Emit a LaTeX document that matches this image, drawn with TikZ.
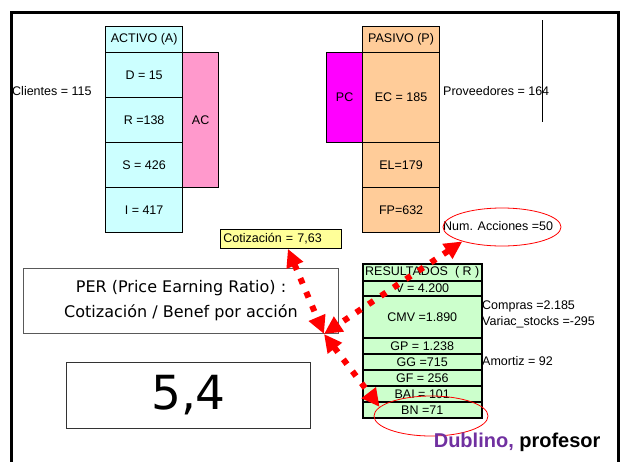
\documentclass[tikz,border=0pt]{standalone}
\usepackage{fontspec}
\setmainfont{Liberation Sans}
\newfontfamily\comicfont{DejaVu Sans}
\usetikzlibrary{arrows.meta,shapes.geometric}
\definecolor{ActCyan}{HTML}{CCFFFF}
\definecolor{PasPeach}{HTML}{FFCC99}
\definecolor{ResGreen}{HTML}{CCFFCC}
\definecolor{AcPink}{HTML}{FF99CC}
\definecolor{PcMagenta}{HTML}{FF00FF}
\definecolor{CotYellow}{HTML}{FFFF99}
\definecolor{DubPurple}{HTML}{7030A0}

\begin{document}
\begin{tikzpicture}[
  x=1pt, y=-1pt, font=\fontsize{12.5}{14}\selectfont,
  cell/.style={draw,line width=1.2pt,minimum width=77,inner sep=0pt,
               anchor=north west},
  rescell/.style={draw,line width=1.5pt,fill=ResGreen,minimum width=119,
                  inner sep=0pt,anchor=north west},
  txt/.style={anchor=west,inner sep=0pt},
  ring/.style={ellipse,draw=red,line width=.8pt,inner sep=0pt},
  flecha/.style={draw=red,line width=6pt,dash pattern=on 6pt off 9pt,
    {Triangle[length=18pt,width=17pt]}-{Triangle[length=18pt,width=17pt]}}]

\useasboundingbox (0,0) rectangle (620,461);
\draw[line width=3pt] (11,475) -- (11,12) -- (618,12) -- (618,475);

% activo
\node[cell,fill=ActCyan,minimum height=26] (act) at (105,26) {ACTIVO (A)};
\node[cell,fill=ActCyan,minimum height=45] (d) at (105,52) {D = 15};
\node[cell,fill=ActCyan,minimum height=45] (r) at (105,97) {R =138};
\node[cell,fill=ActCyan,minimum height=45] (s) at (105,142) {S = 426};
\node[cell,fill=ActCyan,minimum height=45] (i) at (105,187) {I = 417};
\node[cell,fill=AcPink,minimum width=36,minimum height=135] (ac) at (182,52) {AC};
\node[txt] (cli) at (12,91) {Clientes = 115};

% pasivo
\node[cell,fill=PasPeach,minimum height=26] (pas) at (362,26) {PASIVO (P)};
\node[cell,fill=PasPeach,minimum height=90] (ec) at (362,52) {EC = 185};
\node[cell,fill=PasPeach,minimum height=45] (el) at (362,142) {EL=179};
\node[cell,fill=PasPeach,minimum height=45] (fp) at (362,187) {FP=632};
\node[cell,fill=PcMagenta,minimum width=36,minimum height=90] (pc) at (326,52) {PC};
\node[txt] (prov) at (443,91) {Proveedores = 164};
\draw[line width=1pt] (542,20) -- (542,122);

\node[txt] (acc) at (443,226) {Num. Acciones =50};
\node[ring,minimum width=118,minimum height=38] (accring) at (502,227) {};

\node[draw,line width=.8pt,fill=CotYellow,anchor=north west,minimum height=19,
      text width=115,inner xsep=3,inner ysep=0,align=left] (cot) at (220,229)
  {Cotización = 7,63};

\node[draw=black!65,line width=1pt,anchor=north west,minimum width=315,
      minimum height=65,align=center,font=\comicfont\fontsize{16}{25}\selectfont]
  (per) at (23,268) {PER (Price Earning Ratio) :\\Cotización / Benef por acción};
\node[draw=black!80,line width=1pt,anchor=north west,minimum width=244,
      minimum height=66,font=\comicfont\fontsize{47}{50}\selectfont]
  (per54) at (66,362) {5,4};

% resultados
\node[rescell,minimum height=17] (resh) at (362,263) {RESULTADOS\ \ ( R )};
\node[rescell,minimum height=15] (v) at (362,280) {V = 4.200};
\node[rescell,minimum height=42] (cmv) at (362,295) {CMV =1.890};
\node[rescell,minimum height=16] (gp) at (362,337) {GP = 1.238};
\node[rescell,minimum height=16] (gg) at (362,353) {GG =715};
\node[rescell,minimum height=16] (gf) at (362,369) {GF = 256};
\node[rescell,minimum height=16] (bai) at (362,385) {BAI = 101};
\node[rescell,minimum height=16] (bn) at (362,401) {BN =71};
\node[txt,align=left,font=\fontsize{12.5}{16}\selectfont] (compras) at (482,314)
  {Compras =2.185\\Variac\_stocks =-295};
\node[txt] (amort) at (482,361) {Amortiz = 92};
\node[ring,minimum width=114,minimum height=40] (bnring) at (431,416) {};

\node[anchor=base east,font=\bfseries\fontsize{20}{24}\selectfont] (dub) at (604,447)
  {\textcolor{DubPurple}{Dublino,} profesor};

\coordinate (m) at (324,334);
\draw[flecha] ([xshift=7pt]cot.south) -- (m);
\draw[flecha] (accring.200) -- (m);
\draw[flecha] (m) -- (bnring.170);
\end{tikzpicture}
\end{document}
